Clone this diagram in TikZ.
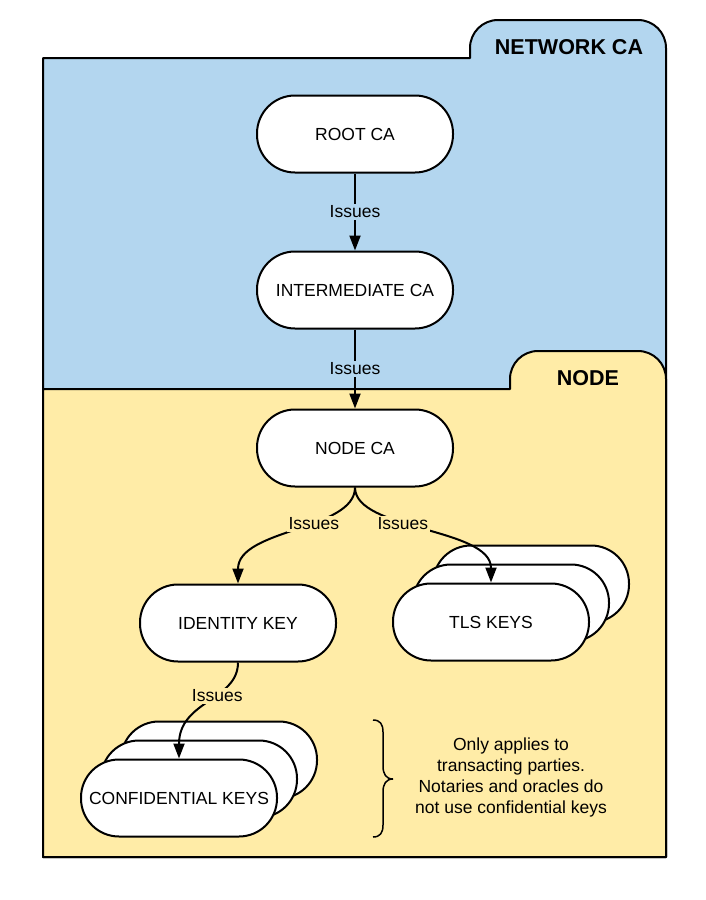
\documentclass[tikz,border=0pt]{standalone}
\usepackage{fontspec}
\setmainfont{Liberation Sans}
\usetikzlibrary{arrows.meta}
\definecolor{netblue}{RGB}{179,214,239}
\definecolor{nodeyel}{RGB}{255,236,167}
\begin{document}
\begin{tikzpicture}[x=1pt,y=-1pt,
  region/.style={draw=black,line width=2pt,line join=round},
  pill/.style={draw=black,fill=white,line width=2pt,rounded corners=38pt,minimum width=196pt,minimum height=77pt,inner sep=0pt,font=\fontsize{17.5}{20}\selectfont},
  lbl/.style={font=\fontsize{17.5}{20}\selectfont,inner sep=2pt},
  arr/.style={line width=2pt,-{Triangle[length=15pt,width=11pt]}},
  title/.style={font=\fontsize{21.5}{24}\selectfont\bfseries}]
\useasboundingbox (0,0) rectangle (706,900);
% regions
\filldraw[region,fill=netblue] (43,857) -- (43,58) -- (470,58) -- (470,48) .. controls (470,32.5) and (482.5,20) .. (498,20) -- (638,20) .. controls (653.5,20) and (666,32.5) .. (666,48) -- (666,857) -- cycle;
\filldraw[region,fill=nodeyel] (43,857) -- (43,389) -- (510,389) -- (510,379) .. controls (510,363.5) and (522.5,351) .. (538,351) -- (638,351) .. controls (653.5,351) and (666,363.5) .. (666,379) -- (666,857) -- cycle;
\node[title] (netca) at (569,47) {NETWORK CA};
\node[title] (nodet) at (588,378) {NODE};
% nodes
\node[pill] (root) at (355,134) {ROOT CA};
\node[pill] (inter) at (355,290) {INTERMEDIATE CA};
\node[pill] (nodeca) at (355,448) {NODE CA};
\node[pill] (idkey) at (238,623) {IDENTITY KEY};
\node[pill] (tlsc) at (531,584) {};
\node[pill] (tlsb) at (511,603) {};
\node[pill] (tls) at (491,622) {TLS KEYS};
\node[pill] (confc) at (219,760) {};
\node[pill] (confb) at (199,779) {};
\node[pill] (conf) at (179,798) {CONFIDENTIAL KEYS};
% connectors
\draw[arr] (root) -- node[lbl,fill=netblue] {Issues} (inter);
\draw[arr] (inter) -- node[lbl,fill=netblue] {Issues} (nodeca);
\draw[arr] (nodeca.south) .. controls +(0,43) and +(0,-55) .. node[lbl,fill=nodeyel,pos=0.4] {Issues} (idkey.north);
\draw[arr] (nodeca.south) .. controls +(0,43) and +(0,-55) .. node[lbl,fill=nodeyel,pos=0.4] {Issues} (tls.north);
\draw[arr] (idkey.south) .. controls +(0,38) and +(0,-58) .. node[lbl,fill=nodeyel,pos=0.4] {Issues} (conf.north);
% brace and note
\draw[line width=1.5pt] (373,720) .. controls (380,720) and (383,724) .. (383,732) -- (383,766) .. controls (383,774) and (386,779) .. (393,779) .. controls (386,779) and (383,784) .. (383,792) -- (383,825) .. controls (383,833) and (380,837) .. (373,837);
\node[align=center,font=\fontsize{17.5}{21}\selectfont] (note) at (511,777) {Only applies to\\transacting parties.\\Notaries and oracles do\\not use confidential keys};
\end{tikzpicture}
\end{document}
